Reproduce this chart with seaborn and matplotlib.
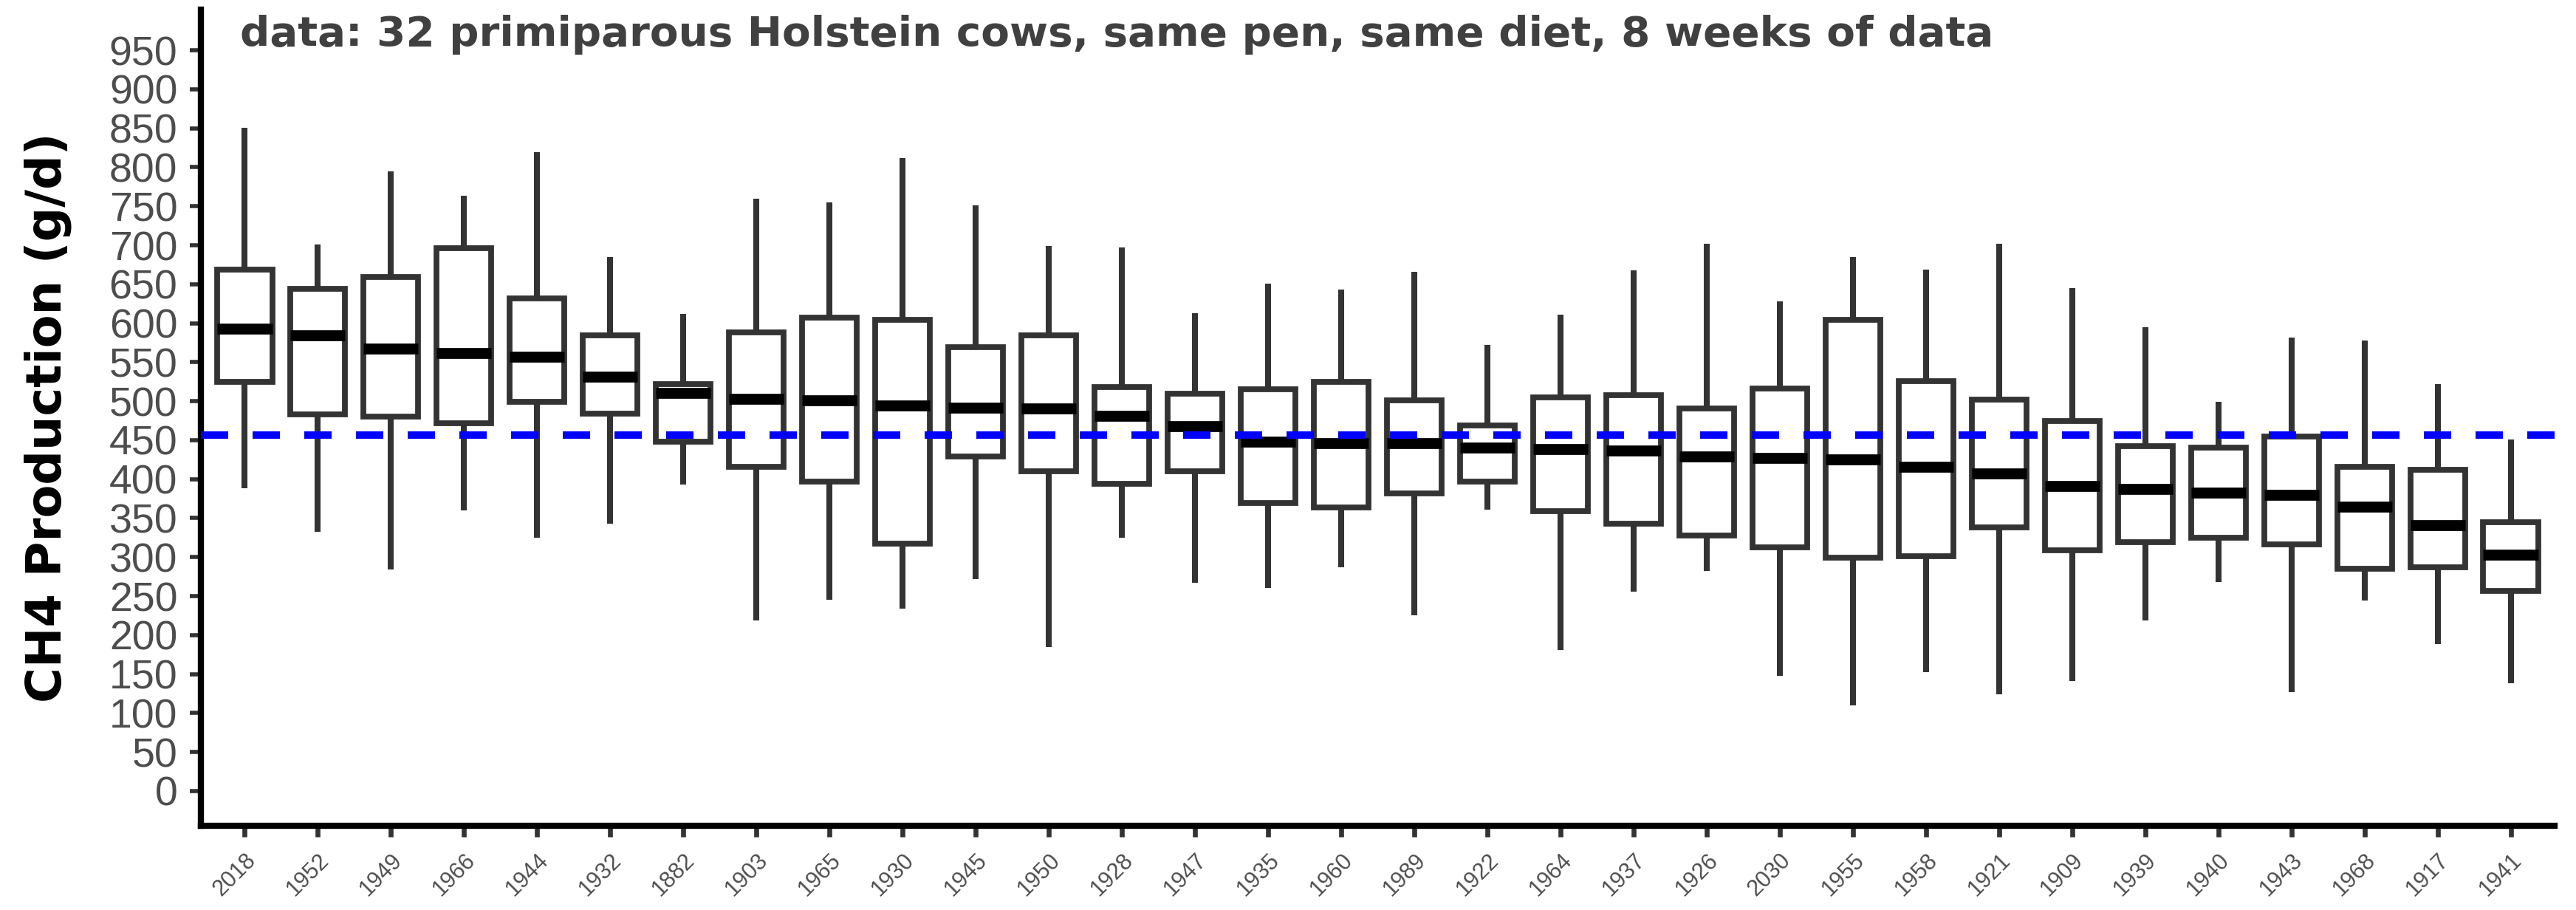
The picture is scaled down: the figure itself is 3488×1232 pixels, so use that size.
import numpy as np
import pandas as pd
import matplotlib
matplotlib.use("Agg")
import matplotlib.pyplot as plt
import seaborn as sns

# ---- data ----
cows = ["2018", "1952", "1949", "1966", "1944", "1932", "1882", "1903", "1965", "1930",
        "1945", "1950", "1928", "1947", "1935", "1960", "1989", "1922", "1964", "1937",
        "1926", "2030", "1955", "1958", "1921", "1909", "1939", "1940", "1943", "1968",
        "1917", "1941"]
whisker_high = [851, 701, 795, 763, 819, 685, 612, 760, 755, 812, 751, 699, 697, 613, 651, 643,
                666, 572, 611, 668, 702, 628, 685, 669, 702, 645, 595, 499, 582, 578, 522, 451]
q3 = [669, 644, 659, 696, 632, 584, 522, 588, 607, 604, 569, 584, 518, 510, 515, 525,
      501, 469, 505, 508, 491, 516, 604, 526, 502, 475, 442, 440, 455, 416, 412, 345]
median = [593, 584, 567, 562, 557, 531, 511, 503, 501, 494, 492, 491, 481, 468, 448, 446,
          446, 440, 439, 437, 429, 427, 425, 416, 407, 391, 387, 383, 380, 365, 341, 303]
q1 = [525, 483, 480, 472, 499, 484, 448, 416, 397, 317, 429, 410, 394, 410, 369, 364,
      382, 397, 359, 343, 328, 313, 299, 301, 338, 309, 319, 325, 316, 285, 287, 257]
whisker_low = [388, 332, 284, 360, 325, 343, 393, 219, 245, 234, 272, 185, 325, 267, 260, 287,
               225, 361, 181, 256, 282, 148, 110, 152, 124, 141, 219, 268, 127, 244, 188, 138]
herd_mean = 457
y_ticks = list(range(0, 951, 50))
title = "data: 32 primiparous Holstein cows, same pen, same diet, 8 weeks of data"
y_label = "CH4 Production (g/d)"

# five-number summaries as long table (quartiles fall exactly on these points)
rows = []
for i, cow in enumerate(cows):
    for v in (whisker_low[i], q1[i], median[i], q3[i], whisker_high[i]):
        rows.append({"cow": cow, "ch4": v})
df = pd.DataFrame(rows)

sns.set_style("white")
plt.rcParams["font.family"] = ["Liberation Sans", "DejaVu Sans"]

W, H, DPI = 3488, 1232, 200
fig = plt.figure(figsize=(W / DPI, H / DPI), dpi=DPI)
ax_left, ax_right, ax_top, ax_bottom = 272, 3459, 13, 1118
ax = fig.add_axes([ax_left / W, 1 - ax_bottom / H, (ax_right - ax_left) / W, (ax_bottom - ax_top) / H])

edge = "#333333"
sns.boxplot(
    data=df, x="cow", y="ch4", order=cows, ax=ax,
    whis=(0, 100), width=0.75, showfliers=False,
    color="white", linecolor=edge, linewidth=2.8,
    medianprops={"color": "black", "linewidth": 5.3, "solid_capstyle": "butt"},
    whiskerprops={"color": edge, "linewidth": 2.9, "solid_capstyle": "butt"},
    capprops={"visible": False},
)

ax.axhline(herd_mean, color="#0000FF", linewidth=3.6, dashes=(3.7, 3.3), zorder=10)

ax.set_xlim(-0.6, 31.6)
ax.set_ylim(-44.6, 1002.2)
ax.set_yticks(y_ticks)
ax.set_yticklabels([str(t) for t in y_ticks])

for s in ["top", "right"]:
    ax.spines[s].set_visible(False)
for s in ["left", "bottom"]:
    ax.spines[s].set_linewidth(3)
    ax.spines[s].set_color("black")

ax.tick_params(axis="y", direction="out", length=5.4, width=2, color=edge,
               labelsize=20, labelcolor="#4D4D4D", pad=6, left=True)
ax.tick_params(axis="x", direction="out", length=5.4, width=2.4, color=edge,
               labelsize=11, labelcolor="#4D4D4D", pad=6, bottom=True)
plt.setp(ax.get_xticklabels(), rotation=45, ha="right", va="top", rotation_mode="anchor")

ax.set_xlabel("")
ax.set_ylabel(y_label, fontsize=23.5, fontweight="bold", family="DejaVu Sans", color="black")
ax.yaxis.set_label_coords(-0.055, 0.5)

fig.text(325 / W, 1 - 62 / H, title, fontsize=20.3, fontweight="bold",
         family="DejaVu Sans", color="#404040", va="baseline", ha="left")

fig.savefig("out.png", dpi=DPI, facecolor="white")
